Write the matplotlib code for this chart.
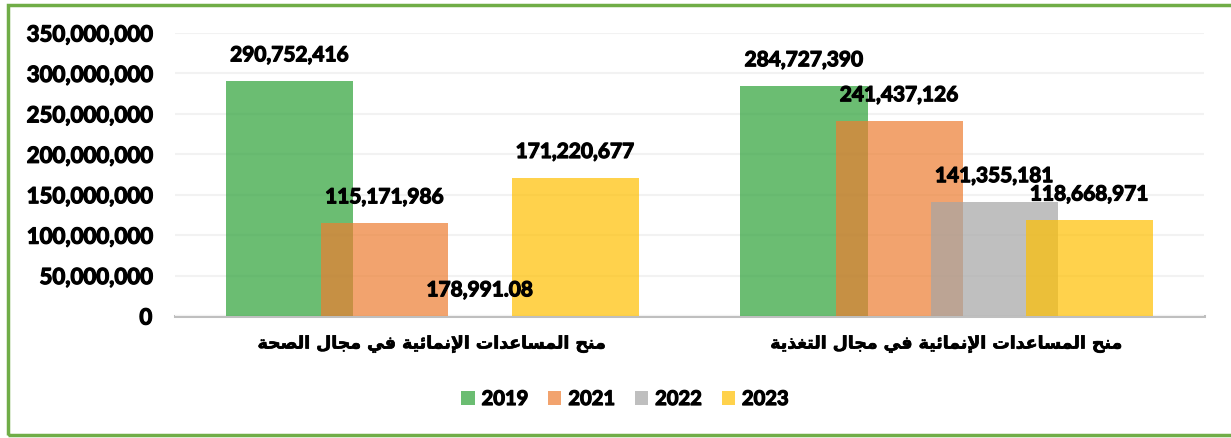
import numpy as np
import matplotlib.pyplot as plt
import matplotlib.patheffects as pe
from matplotlib.patches import Rectangle
from matplotlib.ticker import FuncFormatter

# data
categories = ['منح المساعدات الإنمائية في مجال الصحة',
              'منح المساعدات الإنمائية في مجال التغذية']
years = ['2019', '2021', '2022', '2023']
v2019 = [290752416, 284727390]
v2021 = [115171986, 241437126]
v2022 = [178991.08, 141355181]
v2023 = [171220677, 118668971]
yticks = [0, 50e6, 100e6, 150e6, 200e6, 250e6, 300e6, 350e6]

colors = ['#2ca137', '#ed7d31', '#a5a5a5', '#ffc000']

# matplotlib does no arabic shaping, so pick presentation forms by hand
# (isolated, final, initial, medial)
AR_FORMS = {
    'ا': ('\uFE8D', '\uFE8E', None, None),
    'إ': ('\uFE87', '\uFE88', None, None),
    'ت': ('\uFE95', '\uFE96', '\uFE97', '\uFE98'),
    'ة': ('\uFE93', '\uFE94', None, None),
    'ج': ('\uFE9D', '\uFE9E', '\uFE9F', '\uFEA0'),
    'ح': ('\uFEA1', '\uFEA2', '\uFEA3', '\uFEA4'),
    'د': ('\uFEA9', '\uFEAA', None, None),
    'ذ': ('\uFEAB', '\uFEAC', None, None),
    'س': ('\uFEB1', '\uFEB2', '\uFEB3', '\uFEB4'),
    'ص': ('\uFEB9', '\uFEBA', '\uFEBB', '\uFEBC'),
    'ع': ('\uFEC9', '\uFECA', '\uFECB', '\uFECC'),
    'غ': ('\uFECD', '\uFECE', '\uFECF', '\uFED0'),
    'ف': ('\uFED1', '\uFED2', '\uFED3', '\uFED4'),
    'ل': ('\uFEDD', '\uFEDE', '\uFEDF', '\uFEE0'),
    'م': ('\uFEE1', '\uFEE2', '\uFEE3', '\uFEE4'),
    'ن': ('\uFEE5', '\uFEE6', '\uFEE7', '\uFEE8'),
    'ي': ('\uFEF1', '\uFEF2', '\uFEF3', '\uFEF4'),
    'ئ': ('\uFE89', '\uFE8A', '\uFE8B', '\uFE8C'),
}
LAM_ALEF = {'ا': ('\uFEFB', '\uFEFC'), 'إ': ('\uFEF9', '\uFEFA')}


def joins_forward(c):
    return c in AR_FORMS and AR_FORMS[c][2] is not None


def shape_ar(text):
    out = []
    i = 0
    n = len(text)
    while i < n:
        c = text[i]
        if c not in AR_FORMS:
            out.append(c)
            i += 1
            continue
        after_join = i > 0 and joins_forward(text[i-1])
        if c == 'ل' and i + 1 < n and text[i+1] in LAM_ALEF:
            out.append(LAM_ALEF[text[i+1]][1 if after_join else 0])
            i += 2
            continue
        before_join = joins_forward(c) and i + 1 < n and text[i+1] in AR_FORMS
        iso, fin, ini, med = AR_FORMS[c]
        if after_join and before_join:
            out.append(med)
        elif after_join:
            out.append(fin)
        elif before_join:
            out.append(ini)
        else:
            out.append(iso)
        i += 1
    return ''.join(reversed(out))


def fmt_val(v):
    if v != int(v):
        return '{:,.2f}'.format(v)
    return '{:,.0f}'.format(v)


plt.rcParams['font.family'] = ['Lato', 'DejaVu Sans']
heavy = [pe.withStroke(linewidth=0.9, foreground='black')]

fig = plt.figure(figsize=(12.31, 4.39), dpi=100)
ax = fig.add_axes([0.1422, 0.2779, 0.8359, 0.6447])

x = np.arange(len(categories)) + 0.5
width = 0.247
step = 0.185
series = [v2019, v2021, v2022, v2023]
for j, vals in enumerate(series):
    xpos = x + (j - 1.5) * step
    ax.bar(xpos, vals, width, color=colors[j], alpha=0.7, zorder=2 + j,
           label=years[j])
    for xp, v in zip(xpos, vals):
        ax.annotate(fmt_val(v), (xp, v), xytext=(0, 18.4),
                    textcoords='offset points', ha='center', va='center',
                    fontsize=15, fontweight='bold', zorder=10,
                    path_effects=heavy)

ax.set_xlim(0, 2)
ax.set_ylim(0, 350e6)
ax.set_yticks(yticks)
ax.yaxis.set_major_formatter(FuncFormatter(lambda v, p: '{:,.0f}'.format(v)))
ax.tick_params(axis='y', length=0, pad=16.5, labelsize=16)
for lab in ax.get_yticklabels():
    lab.set_fontweight('bold')
    lab.set_path_effects(heavy)

ax.set_xticks(x)
ax.set_xticklabels([shape_ar(c) for c in categories], fontsize=12.5,
                   fontweight='bold', family='DejaVu Sans')
for lab in ax.get_xticklabels():
    lab.set_path_effects([pe.withStroke(linewidth=0.5, foreground='black')])
ax.tick_params(axis='x', length=0, pad=13.5)

ax.grid(axis='y', color='#f2f2f2', lw=1.5, zorder=0)
for s in ['top', 'right', 'left']:
    ax.spines[s].set_visible(False)
ax.spines['bottom'].set_color('#bfbfbf')
ax.spines['bottom'].set_linewidth(2.2)
ax.spines['bottom'].set_zorder(1)

leg = fig.legend(loc='center', bbox_to_anchor=(625 / 1231, 1 - 400 / 439),
                 ncol=4, frameon=False, handlelength=0.65, handleheight=0.65,
                 handletextpad=0.35, columnspacing=1.0,
                 prop={'size': 14.5, 'weight': 'bold'})
for t in leg.get_texts():
    t.set_path_effects(heavy)

# green frame round the chart
fig.add_artist(Rectangle((8 / 1231, 1 - 436 / 439), 1.1, 430 / 439,
                         transform=fig.transFigure, fill=False,
                         edgecolor='#70ad47', lw=2.5))

fig.savefig('out.png', dpi=100)
